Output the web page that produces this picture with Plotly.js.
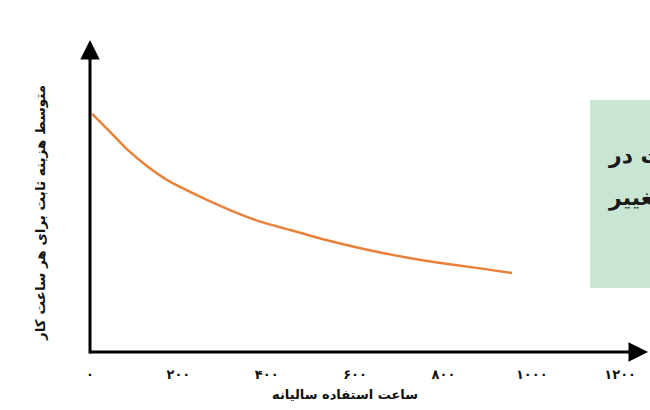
<!DOCTYPE html>
<html>
<head>
<meta charset="utf-8">
<script src="https://cdn.plot.ly/plotly-3.0.1.min.js"></script>
<style>html,body{margin:0;padding:0;background:#fff;}#chart{width:650px;height:410px;}</style>
</head>
<body>
<div id="chart"></div>
<script>
// Data (y has no scale: arbitrary units, 0 = x axis, 100 = top of arrow)
const hours = [5, 41, 86, 131, 181, 249, 317, 385, 453, 521, 657, 770, 883, 955];
const avgFixedCost = [76.3, 71.2, 64.7, 59.4, 54.6, 49.8, 45.5, 41.8, 39.1, 36.4, 31.9, 29.0, 26.8, 25.3];
const tickValues = [0, 200, 400, 600, 800, 1000, 1200];
const tickLabels = ['۰', '۲۰۰', '۴۰۰', '۶۰۰', '۸۰۰', '۱۰۰۰', '۱۲۰۰'];
const xTitle = 'ساعت استفاده سالیانه';
const yTitle = 'متوسط هزینه ثابت برای هر ساعت کار';
const boxLine1 = 'ثابت در';
const boxLine2 = 'تغییر';

const FONT = 'DejaVu Sans, Noto Sans, sans-serif';

const trace = {
  x: hours,
  y: avgFixedCost,
  type: 'scatter',
  mode: 'lines',
  line: {color: '#e8823a', width: 2.5, shape: 'spline', smoothing: 0.4},
  hoverinfo: 'skip'
};

const layout = {
  width: 650,
  height: 410,
  margin: {l: 90, r: 2, t: 40, b: 58},
  paper_bgcolor: '#ffffff',
  plot_bgcolor: '#ffffff',
  showlegend: false,
  xaxis: {
    range: [0, 1263],
    showgrid: false,
    zeroline: false,
    showline: false,
    tickvals: tickValues,
    ticktext: tickLabels,
    ticks: 'outside',
    ticklen: 10,
    tickcolor: 'rgba(0,0,0,0)',
    tickfont: {family: FONT, size: 13, color: '#111', weight: 'bold'},
    fixedrange: true
  },
  yaxis: {
    range: [0, 100],
    showgrid: false,
    zeroline: false,
    showline: false,
    showticklabels: false,
    ticks: '',
    fixedrange: true
  },
  shapes: [
    {type: 'rect', xref: 'paper', yref: 'paper', x0: 500/558, x1: 1.01, y0: (352-288)/312, y1: (352-100)/312,
     fillcolor: '#c9e6d5', line: {width: 0}, layer: 'below'}
  ],
  annotations: [
    // x axis arrow
    {x: 1263, y: 0, ax: -4, ay: 0, xref: 'x', yref: 'y', axref: 'x', ayref: 'y',
     showarrow: true, arrowhead: 2, arrowsize: 1.3, arrowwidth: 3, arrowcolor: '#000', text: ''},
    // y axis arrow
    {x: 0, y: 100, ax: 0, ay: -1, xref: 'x', yref: 'y', axref: 'x', ayref: 'y',
     showarrow: true, arrowhead: 2, arrowsize: 1.3, arrowwidth: 3, arrowcolor: '#000', text: ''},
    // axis titles
    {x: 345, y: 394, text: xTitle, showarrow: false,
     font: {family: FONT, size: 13, color: '#111', weight: 'bold'}, xanchor: 'center', yanchor: 'middle'},
    {x: 40, y: 213, text: yTitle, showarrow: false, textangle: -90,
     font: {family: FONT, size: 13.5, color: '#111', weight: 'bold'}, xanchor: 'center', yanchor: 'middle'},
    // box text (lines continue past the right edge of the picture, as in the reference)
    {x: 606, y: 155, text: boxLine1, showarrow: false,
     font: {family: FONT, size: 22, color: '#1a1a1a', weight: 'bold'}, xanchor: 'left', yanchor: 'middle'},
    {x: 606, y: 198, text: boxLine2, showarrow: false,
     font: {family: FONT, size: 22, color: '#1a1a1a', weight: 'bold'}, xanchor: 'left', yanchor: 'middle'}
  ]
};

// convert pixel-positioned annotations (axis titles and box text) to paper coords
const plotL = 90, plotW = 558, plotT = 40, plotH = 312;
layout.annotations.forEach((a, i) => {
  if (i >= 2) {
    a.xref = 'paper'; a.yref = 'paper';
    a.x = (a.x - plotL) / plotW;
    a.y = (plotT + plotH - a.y) / plotH;
  }
});

Plotly.newPlot('chart', [trace], layout, {displayModeBar: false, staticPlot: true});
</script>
</body>
</html>
